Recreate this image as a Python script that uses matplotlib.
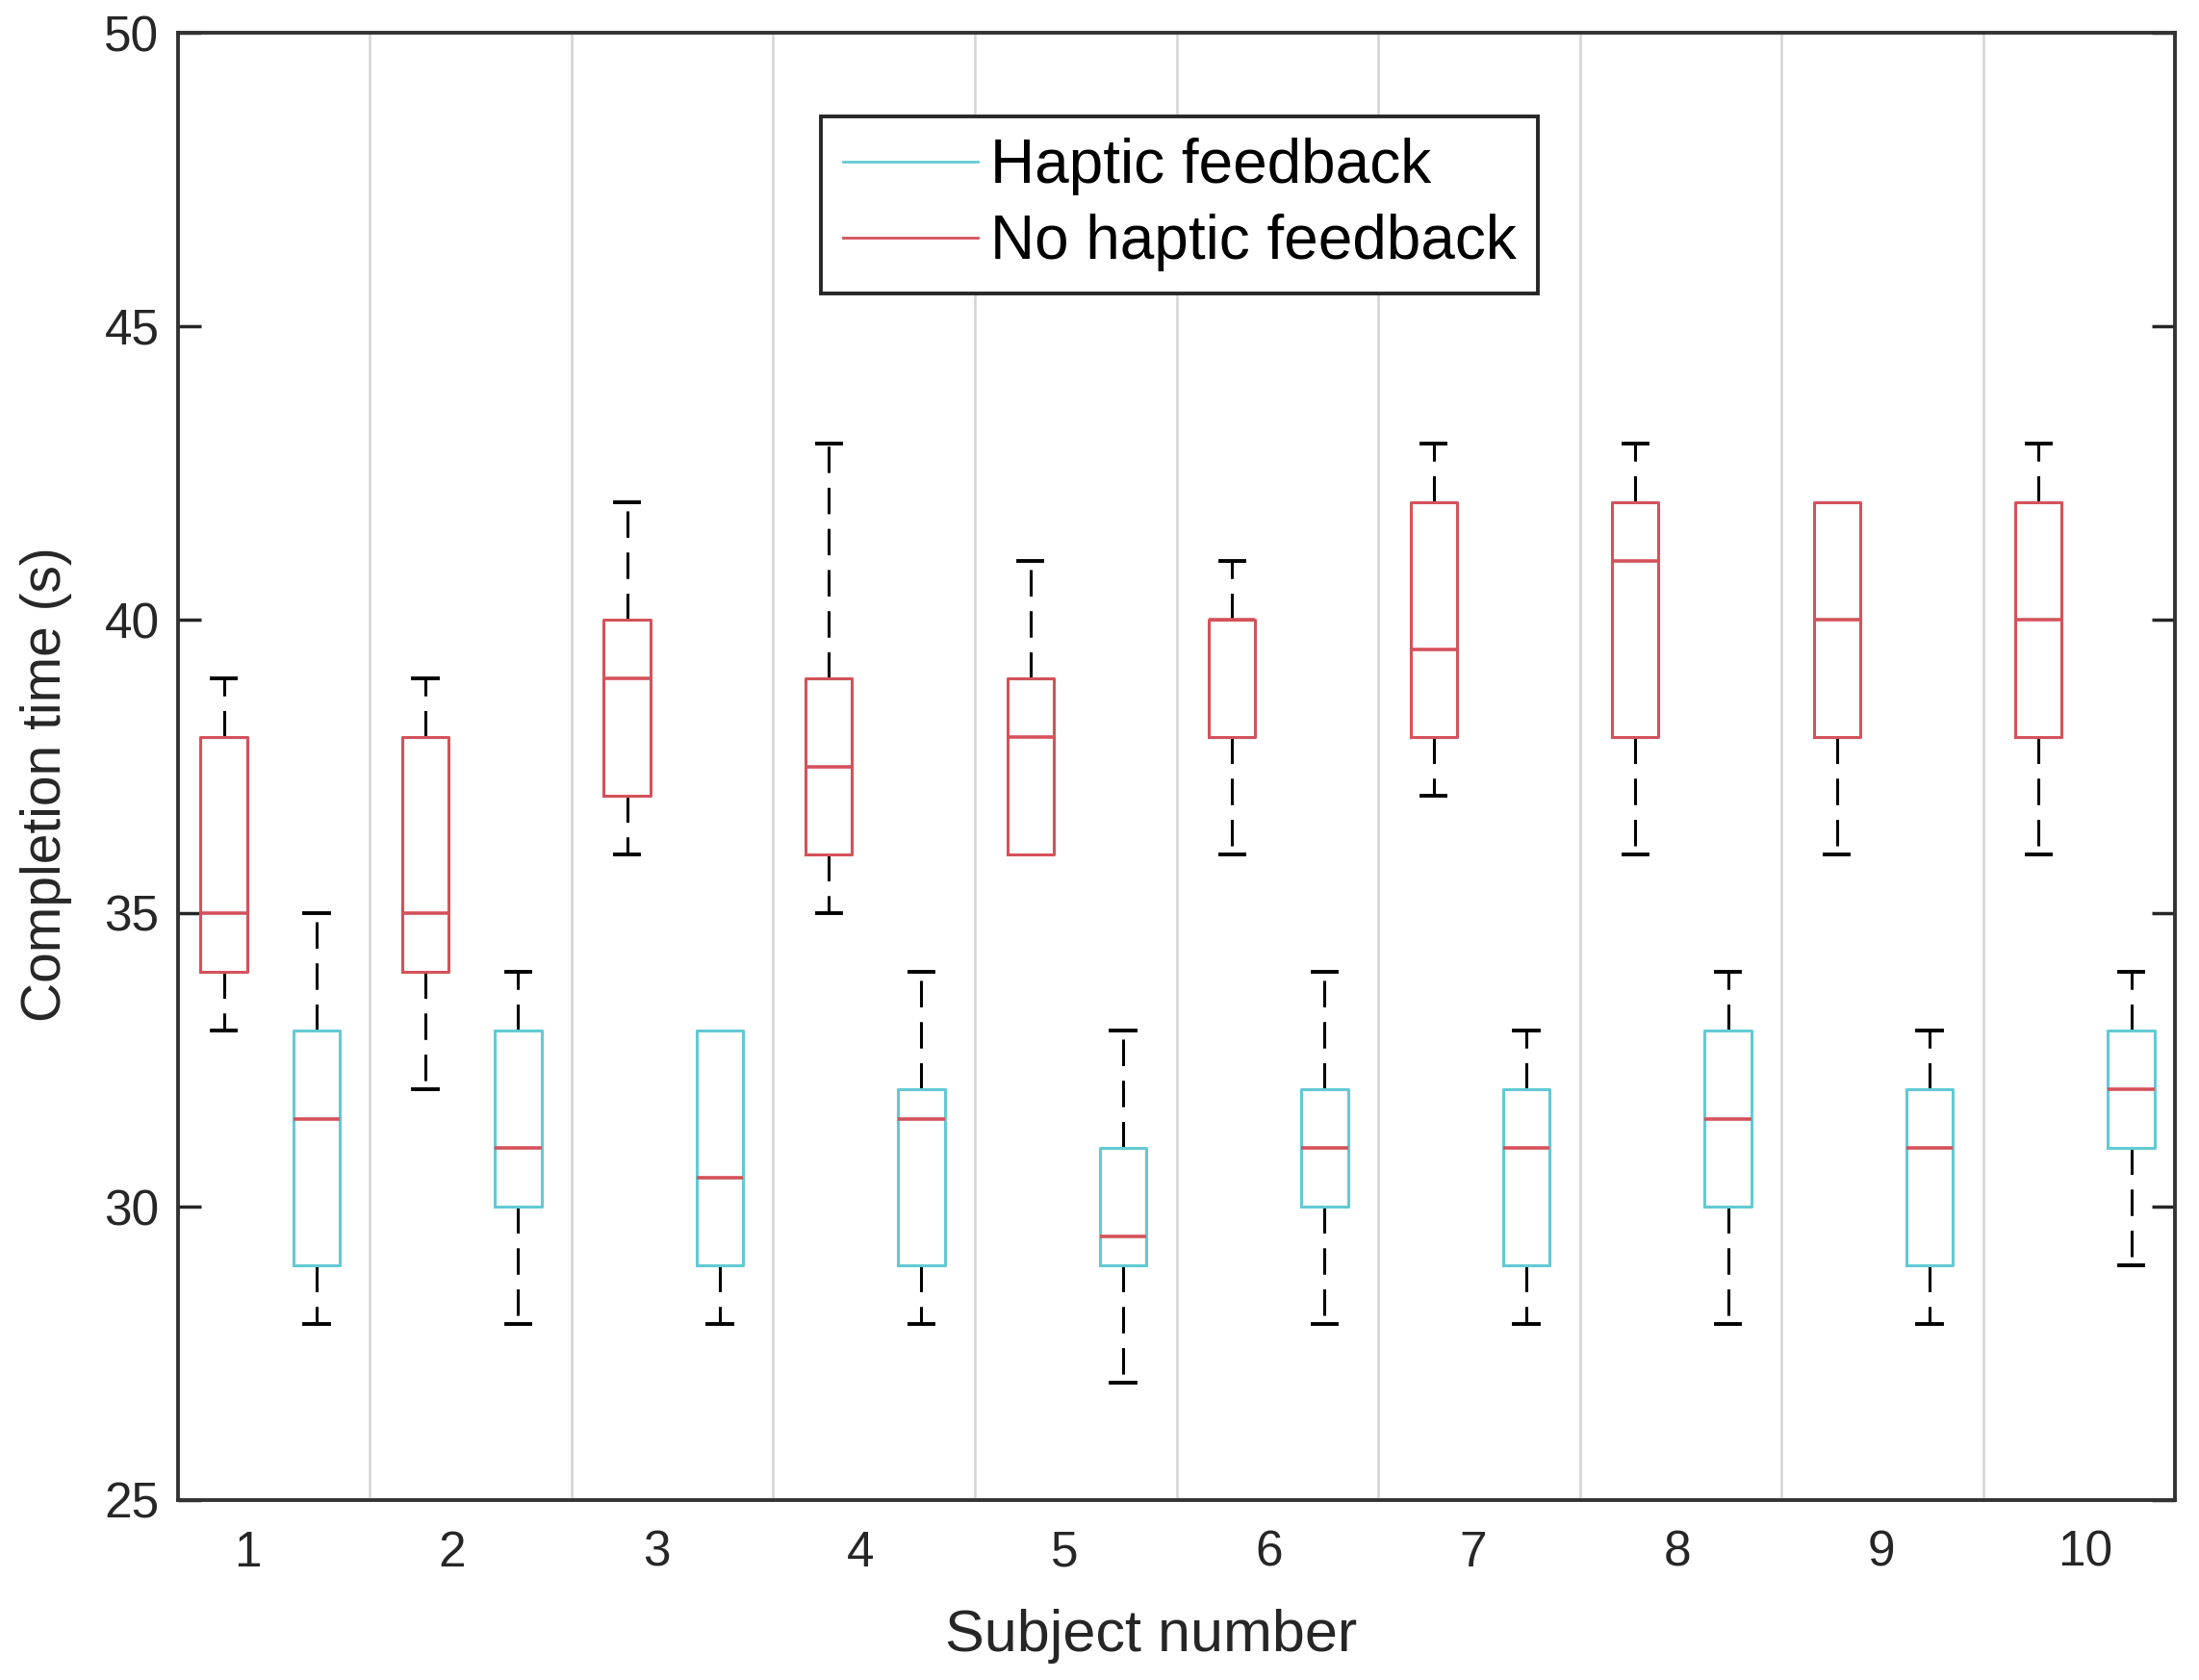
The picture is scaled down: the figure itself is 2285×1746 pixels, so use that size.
import numpy as np
import matplotlib.pyplot as plt
from matplotlib.lines import Line2D

plt.rcParams['font.family'] = ['Liberation Sans', 'DejaVu Sans']

# Subjects
subjects = [1, 2, 3, 4, 5, 6, 7, 8, 9, 10]

# No haptic feedback (red boxes): lower whisker, Q1, median, Q3, upper whisker
nohap_low = [33, 32, 36, 35, 36, 36, 37, 36, 36, 36]
nohap_q1 = [34, 34, 37, 36, 36, 38, 38, 38, 38, 38]
nohap_med = [35, 35, 39, 37.5, 38, 40, 39.5, 41, 40, 40]
nohap_q3 = [38, 38, 40, 39, 39, 40, 42, 42, 42, 42]
nohap_high = [39, 39, 42, 43, 41, 41, 43, 43, 42, 43]

# Haptic feedback (cyan boxes)
hap_low = [28, 28, 28, 28, 27, 28, 28, 28, 28, 29]
hap_q1 = [29, 30, 29, 29, 29, 30, 29, 30, 29, 31]
hap_med = [31.5, 31, 30.5, 31.5, 29.5, 31, 31, 31.5, 31, 32]
hap_q3 = [33, 33, 33, 32, 31, 32, 32, 33, 32, 33]
hap_high = [35, 34, 33, 34, 33, 34, 33, 34, 33, 34]

red = '#d4525a'
cyan = '#62cad4'
dark = '#262626'


def make_stats(low, q1, med, q3, high):
    return [dict(whislo=a, q1=b, med=c, q3=d, whishi=e, fliers=[])
            for a, b, c, d, e in zip(low, q1, med, q3, high)]


def hide_flat_caps(parts, q1, q3):
    # when a whisker has zero length, only the box edge shows
    caps = parts['caps']
    for i in range(len(q1)):
        lo_cap, hi_cap = caps[2 * i], caps[2 * i + 1]
        if lo_cap.get_ydata()[0] == q1[i]:
            lo_cap.set_visible(False)
        if hi_cap.get_ydata()[0] == q3[i]:
            hi_cap.set_visible(False)


fig = plt.figure(figsize=(22.85, 17.46), dpi=100)
ax = fig.add_axes([185 / 2285, 1 - 1559 / 1746, 2075 / 2285, 1525 / 1746])

x = np.array(subjects, dtype=float)
whisk = dict(color='black', linewidth=2.2, linestyle=(0, (9, 5)), zorder=1.8)
cap = dict(color='black', linewidth=2.8, zorder=1.8)

p1 = ax.bxp(make_stats(nohap_low, nohap_q1, nohap_med, nohap_q3, nohap_high),
            positions=x - 0.225, widths=0.23, showfliers=False, manage_ticks=False,
            boxprops=dict(color=red, linewidth=2.2, zorder=2.2),
            medianprops=dict(color=red, linewidth=2.6, zorder=2.3),
            whiskerprops=whisk, capprops=cap, capwidths=0.12)
hide_flat_caps(p1, nohap_q1, nohap_q3)
p2 = ax.bxp(make_stats(hap_low, hap_q1, hap_med, hap_q3, hap_high),
            positions=x + 0.235, widths=0.23, showfliers=False, manage_ticks=False,
            boxprops=dict(color=cyan, linewidth=2.2, zorder=2.2),
            medianprops=dict(color=red, linewidth=2.6, zorder=2.3),
            whiskerprops=whisk, capprops=cap, capwidths=0.12)
hide_flat_caps(p2, hap_q1, hap_q3)

# group separators
for s in subjects[:-1]:
    ax.axvline(s + 0.5, color='#d4d4d4', linewidth=1.8, zorder=0)

ax.set_xlim(0.548, 10.452)
ax.set_ylim(25, 50)
ax.set_yticks([25, 30, 35, 40, 45, 50])
# labels in the source sit a little left of the group centres on the left side
ax.set_xticks(x - 0.105 + 0.0125 * (x - 1))
ax.set_xticklabels([str(s) for s in subjects])
ax.tick_params(axis='y', direction='in', length=17, width=2.5, colors=dark,
               labelsize=37, right=True, pad=14)
ax.tick_params(axis='x', length=0, labelsize=37, colors=dark, pad=22)
for sp in ax.spines.values():
    sp.set_linewidth(2.8)
    sp.set_color('#333333')

ax.set_xlabel('Subject number', fontsize=44, color=dark)
ax.xaxis.set_label_coords(0.4875, -0.074)
ax.set_ylabel('Completion time (s)', fontsize=41, color=dark)
ax.yaxis.set_label_coords(-0.053, 0.488)

handles = [Line2D([], [], color=cyan, linewidth=2),
           Line2D([], [], color=red, linewidth=2)]
leg = ax.legend(handles, ['Haptic feedback', 'No haptic feedback'],
                loc='upper left', bbox_to_anchor=(0.322, 0.943),
                borderaxespad=0, fontsize=46, fancybox=False, framealpha=1,
                edgecolor=dark, handlelength=2.2, handletextpad=0.2,
                labelspacing=0.3, borderpad=0.35)
leg.get_frame().set_linewidth(2.8)
for t in leg.get_texts():
    t.set_color('black')

fig.savefig('out.png', dpi=100, facecolor='white')
